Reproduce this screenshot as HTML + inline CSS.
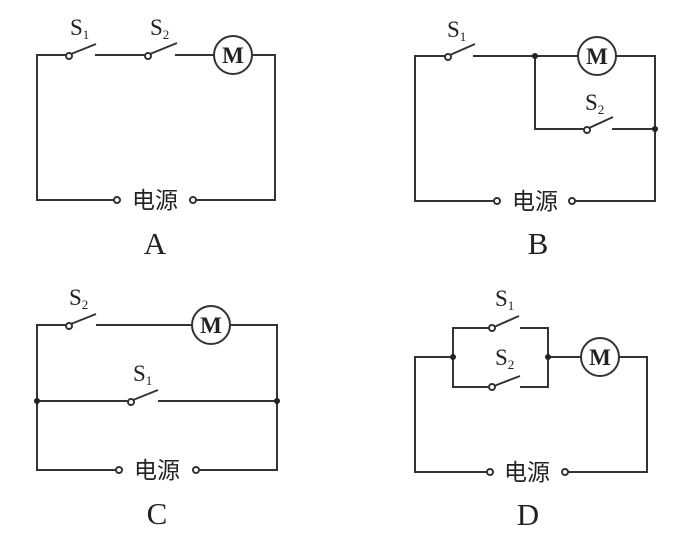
<!DOCTYPE html>
<html><head><meta charset="utf-8"><style>
html,body{margin:0;padding:0;background:#fff;}
svg{display:block;}
text{fill:#222;}
.s{font-family:"Liberation Serif",serif;font-size:23px;}
.sub{font-size:13px;}
.cn{font-family:"Liberation Sans","Noto Sans CJK SC",sans-serif;font-size:23px;}
.L{font-family:"Liberation Serif",serif;font-size:31px;}
</style></head><body>
<svg width="692" height="541" viewBox="0 0 692 541" xmlns="http://www.w3.org/2000/svg">
<g stroke="#333" stroke-width="2" fill="none">
<!-- A -->
<polyline points="66,55 37,55 37,200 114,200"/>
<polyline points="196,200 275,200 275,55 253,55"/>
<line x1="95" y1="55" x2="145" y2="55"/>
<line x1="175" y1="55" x2="214" y2="55"/>
<line x1="71" y1="54" x2="96" y2="44"/>
<line x1="150" y1="54" x2="177" y2="43"/>
<circle cx="233" cy="55" r="19"/>
<circle cx="69" cy="56" r="3" fill="#fff"/>
<circle cx="148" cy="56" r="3" fill="#fff"/>
<circle cx="117" cy="200" r="3" fill="#fff"/>
<circle cx="193" cy="200" r="3" fill="#fff"/>
<!-- B -->
<polyline points="445,56 415,56 415,201 494,201"/>
<polyline points="575,201 655,201 655,56 616,56"/>
<line x1="473" y1="56" x2="578" y2="56"/>
<polyline points="535,56 535,129 584,129"/>
<line x1="612" y1="129" x2="655" y2="129"/>
<line x1="450" y1="55" x2="475" y2="44"/>
<line x1="589" y1="128" x2="613" y2="117"/>
<circle cx="597" cy="56" r="19"/>
<circle cx="448" cy="57" r="3" fill="#fff"/>
<circle cx="587" cy="130" r="3" fill="#fff"/>
<circle cx="497" cy="201" r="3" fill="#fff"/>
<circle cx="572" cy="201" r="3" fill="#fff"/>
<!-- C -->
<polyline points="66,325 37,325 37,470 116,470"/>
<polyline points="199,470 277,470 277,325 230,325"/>
<line x1="96" y1="325" x2="192" y2="325"/>
<line x1="37" y1="401" x2="128" y2="401"/>
<line x1="158" y1="401" x2="277" y2="401"/>
<line x1="71" y1="324" x2="96" y2="314"/>
<line x1="133" y1="400" x2="158" y2="390"/>
<circle cx="211" cy="325" r="19"/>
<circle cx="69" cy="326" r="3" fill="#fff"/>
<circle cx="131" cy="402" r="3" fill="#fff"/>
<circle cx="119" cy="470" r="3" fill="#fff"/>
<circle cx="196" cy="470" r="3" fill="#fff"/>
<!-- D -->
<polyline points="453,357 415,357 415,472 487,472"/>
<polyline points="568,472 647,472 647,357 619,357"/>
<line x1="548" y1="357" x2="581" y2="357"/>
<polyline points="489,328 453,328 453,387 489,387"/>
<polyline points="520,328 548,328 548,387 520,387"/>
<line x1="494" y1="327" x2="519" y2="316"/>
<line x1="494" y1="386" x2="520" y2="376"/>
<circle cx="600" cy="357" r="19"/>
<circle cx="492" cy="328" r="3" fill="#fff"/>
<circle cx="492" cy="387" r="3" fill="#fff"/>
<circle cx="490" cy="472" r="3" fill="#fff"/>
<circle cx="565" cy="472" r="3" fill="#fff"/>
</g>
<g fill="#222">
<circle cx="535" cy="56" r="3"/><circle cx="655" cy="129" r="3"/>
<circle cx="37" cy="401" r="3"/><circle cx="277" cy="401" r="3"/>
<circle cx="453" cy="357" r="3"/><circle cx="548" cy="357" r="3"/>
</g>
<g class="s" text-anchor="middle" font-weight="bold">
<text x="233" y="63">M</text><text x="597" y="64">M</text>
<text x="211" y="333">M</text><text x="600" y="365">M</text>
</g>
<g class="s">
<text x="70" y="35">S<tspan class="sub" dy="4">1</tspan></text>
<text x="150" y="35">S<tspan class="sub" dy="4">2</tspan></text>
<text x="447" y="37">S<tspan class="sub" dy="4">1</tspan></text>
<text x="585" y="110">S<tspan class="sub" dy="4">2</tspan></text>
<text x="69" y="305">S<tspan class="sub" dy="4">2</tspan></text>
<text x="133" y="381">S<tspan class="sub" dy="4">1</tspan></text>
<text x="495" y="306">S<tspan class="sub" dy="4">1</tspan></text>
<text x="495" y="365">S<tspan class="sub" dy="4">2</tspan></text>
</g>
<g class="cn" text-anchor="middle">
<text x="155" y="208">电源</text>
<text x="535" y="209">电源</text>
<text x="157" y="478">电源</text>
<text x="527" y="480">电源</text>
</g>
<g class="L" text-anchor="middle">
<text x="155" y="254">A</text>
<text x="538" y="254">B</text>
<text x="157" y="524">C</text>
<text x="528" y="525">D</text>
</g>
</svg>
</body></html>
